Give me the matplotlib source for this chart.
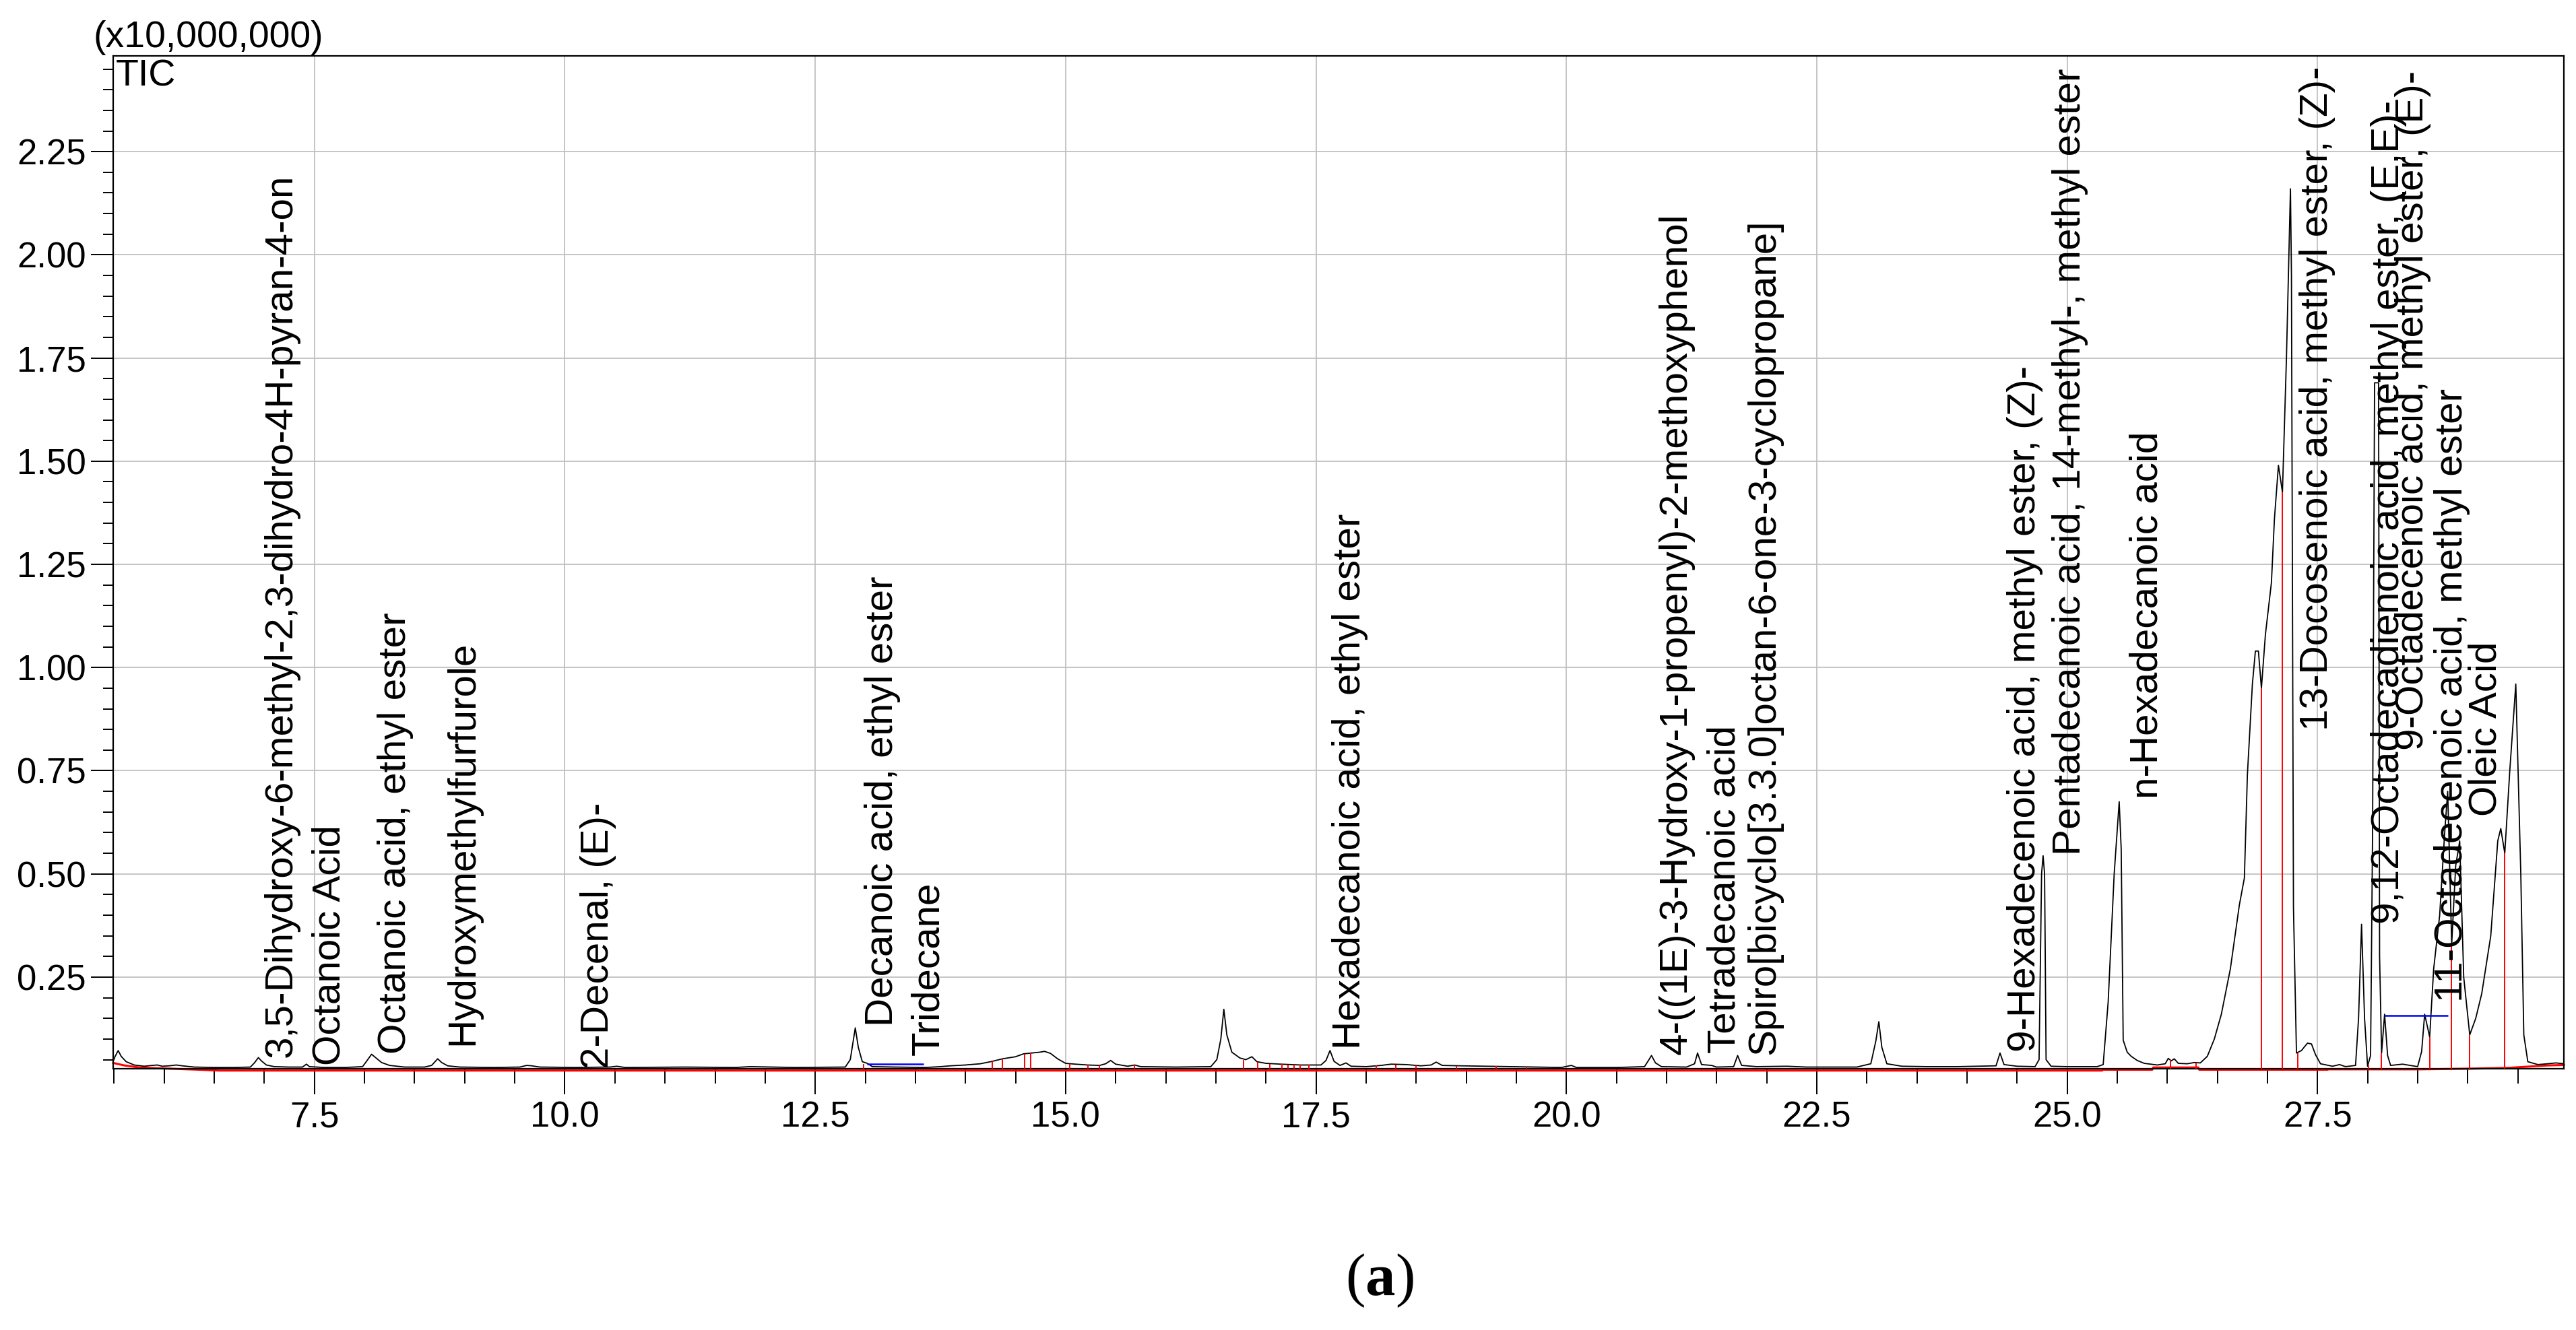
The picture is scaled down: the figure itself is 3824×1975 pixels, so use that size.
import matplotlib
matplotlib.use("Agg")
import matplotlib.pyplot as plt
from matplotlib.ticker import MultipleLocator, FormatStrFormatter

plt.rcParams['font.family'] = ['Liberation Sans', 'DejaVu Sans']
plt.rcParams['mathtext.fontset'] = 'custom'
plt.rcParams['mathtext.rm'] = 'Liberation Serif'
plt.rcParams['mathtext.bf'] = 'Liberation Serif:bold'

# ---- TIC trace (retention time in min, intensity x10,000,000) ----
trace_rt = [5.49, 5.51, 5.54, 5.57, 5.62, 5.70, 5.80, 5.88, 5.93, 5.98, 6.05, 6.12, 6.18, 6.30,
            6.50, 6.70, 6.86, 6.90, 6.94, 6.97, 7.02, 7.10, 7.25, 7.38, 7.42, 7.45, 7.60, 7.80,
            7.98, 8.02, 8.07, 8.11, 8.17, 8.25, 8.40, 8.60, 8.67, 8.73, 8.77, 8.83, 8.95, 9.30,
            9.55, 9.62, 9.67, 9.75, 10.10, 10.45, 10.52, 10.60, 11.20, 11.70, 11.85, 12.30, 12.80,
            12.85, 12.90, 12.93, 12.97, 13.02, 13.07, 13.30, 13.60, 13.75, 13.85, 14.00, 14.15,
            14.27, 14.37, 14.50, 14.58, 14.66, 14.74, 14.79, 14.85, 14.92, 15.00, 15.10, 15.22,
            15.34, 15.40, 15.45, 15.50, 15.62, 15.69, 15.75, 16.10, 16.45, 16.51, 16.55, 16.58,
            16.61, 16.66, 16.74, 16.80, 16.86, 16.91, 17.00, 17.15, 17.35, 17.55, 17.60, 17.64,
            17.68, 17.74, 17.80, 17.85, 18.00, 18.15, 18.25, 18.40, 18.55, 18.65, 18.70, 18.76,
            18.95, 19.20, 19.45, 19.70, 19.95, 20.05, 20.10, 20.50, 20.78, 20.82, 20.85, 20.89,
            20.95, 21.20, 21.28, 21.31, 21.35, 21.45, 21.50, 21.67, 21.71, 21.75, 21.90, 22.20,
            22.40, 22.90, 23.04, 23.09, 23.12, 23.15, 23.20, 23.35, 23.60, 23.90, 24.10, 24.29,
            24.33, 24.37, 24.50, 24.68, 24.72, 24.745, 24.76, 24.775, 24.79, 24.84, 25.00, 25.30,
            25.36, 25.41, 25.47, 25.52, 25.54, 25.56, 25.60, 25.64, 25.70, 25.77, 25.90, 25.98,
            26.01, 26.04, 26.07, 26.11, 26.20, 26.27, 26.33, 26.40, 26.47, 26.54, 26.63, 26.72,
            26.77, 26.80, 26.85, 26.88, 26.91, 26.94, 26.98, 27.04, 27.07, 27.11, 27.15, 27.19,
            27.23, 27.24, 27.25, 27.26, 27.29, 27.34, 27.40, 27.44, 27.48, 27.53, 27.65, 27.72,
            27.78, 27.88, 27.91, 27.94, 27.97, 28.00, 28.03, 28.05, 28.07, 28.11, 28.12, 28.14,
            28.17, 28.20, 28.23, 28.35, 28.50, 28.54, 28.57, 28.62, 28.66, 28.72, 28.77, 28.80,
            28.84, 28.88, 28.92, 28.96, 29.02, 29.08, 29.14, 29.23, 29.30, 29.33, 29.37, 29.42,
            29.48, 29.53, 29.56, 29.60, 29.70, 29.80, 29.88, 29.96]
trace_int = [0.046, 0.058, 0.072, 0.058, 0.045, 0.037, 0.034, 0.036, 0.037, 0.034, 0.035, 0.037, 0.035, 0.032,
             0.031, 0.031, 0.032, 0.042, 0.055, 0.047, 0.037, 0.033, 0.032, 0.032, 0.039, 0.033, 0.031, 0.031,
             0.033, 0.046, 0.063, 0.055, 0.043, 0.036, 0.032, 0.032, 0.036, 0.052, 0.043, 0.035, 0.032, 0.031,
             0.032, 0.036, 0.035, 0.032, 0.031, 0.032, 0.034, 0.031, 0.032, 0.031, 0.033, 0.031, 0.032,
             0.050, 0.127, 0.080, 0.045, 0.041, 0.033, 0.032, 0.031, 0.033, 0.035, 0.037, 0.040,
             0.046, 0.052, 0.057, 0.064, 0.066, 0.068, 0.070, 0.065, 0.052, 0.041, 0.039, 0.037,
             0.036, 0.040, 0.048, 0.039, 0.034, 0.037, 0.033, 0.032, 0.033, 0.050, 0.100, 0.172,
             0.110, 0.068, 0.054, 0.050, 0.057, 0.045, 0.041, 0.039, 0.037, 0.037, 0.048, 0.072,
             0.046, 0.036, 0.042, 0.034, 0.033, 0.036, 0.039, 0.038, 0.035, 0.037, 0.044, 0.036,
             0.035, 0.034, 0.033, 0.032, 0.031, 0.036, 0.031, 0.031, 0.033, 0.048, 0.060, 0.042,
             0.033, 0.032, 0.040, 0.066, 0.038, 0.036, 0.032, 0.033, 0.060, 0.036, 0.033, 0.034,
             0.032, 0.032, 0.040, 0.095, 0.142, 0.080, 0.040, 0.034, 0.033, 0.033, 0.034, 0.035,
             0.066, 0.038, 0.034, 0.033, 0.050, 0.500, 0.544, 0.500, 0.050, 0.034, 0.033, 0.033,
             0.038, 0.190, 0.500, 0.675, 0.560, 0.097, 0.068, 0.058, 0.048, 0.041, 0.037, 0.040,
             0.053, 0.047, 0.052, 0.041, 0.040, 0.043, 0.042, 0.058, 0.100, 0.160, 0.270, 0.425,
             0.490, 0.740, 0.960, 1.040, 1.040, 0.950, 1.080, 1.206, 1.360, 1.490, 1.425, 1.750,
             2.160, 1.950, 1.210, 0.420, 0.066, 0.072, 0.090, 0.088, 0.062, 0.040, 0.034, 0.038,
             0.033, 0.036, 0.150, 0.378, 0.150, 0.034, 0.060, 0.600, 1.690, 1.690, 0.300, 0.066,
             0.160, 0.060, 0.036, 0.039, 0.033, 0.070, 0.160, 0.105, 0.270, 0.400, 0.600, 0.700,
             0.330, 0.520, 0.580, 0.250, 0.110, 0.150, 0.210, 0.350, 0.580, 0.610, 0.550, 0.750,
             0.960, 0.500, 0.110, 0.045, 0.038, 0.040, 0.042, 0.040]

# ---- red integration baseline ----
baseline_rt = [5.49, 5.60, 5.75, 5.95, 6.30, 6.55, 25.35, 25.36, 25.85, 25.86, 26.31, 26.32, 27.60,
               27.61, 28.50, 29.00, 29.40, 29.60, 29.80, 29.96]
baseline_int = [0.042, 0.036, 0.031, 0.029, 0.026, 0.0235, 0.0235, 0.0255, 0.0255, 0.031, 0.031, 0.0255,
                0.0255, 0.0265, 0.0265, 0.028, 0.030, 0.033, 0.036, 0.037]

# ---- red peak marker lines ----
marker_rt = [12.98, 14.27, 14.37, 14.59, 14.65, 15.04, 15.22, 15.34, 15.69, 16.78, 16.92, 17.04,
             17.16, 17.22, 17.28, 17.34, 17.43, 18.10, 18.30, 18.50, 18.90, 19.30, 19.60,
             26.03, 26.29, 26.94, 27.15, 27.30, 28.01, 28.14, 28.62, 28.84, 29.02, 29.37]
marker_top = [0.040, 0.046, 0.052, 0.064, 0.066, 0.040, 0.037, 0.036, 0.037, 0.050, 0.045, 0.040,
              0.039, 0.038, 0.038, 0.037, 0.037, 0.036, 0.038, 0.036, 0.035, 0.034, 0.033,
              0.050, 0.043, 0.950, 1.425, 0.066, 0.036, 0.066, 0.105, 0.330, 0.110, 0.550]

# ---- blue baseline marks ----
blue_start = [13.02, 28.17]
blue_end = [13.58, 28.80]
blue_level = [0.040, 0.157]

# ---- peak labels ----
label_names = ["3,5-Dihydroxy-6-methyl-2,3-dihydro-4H-pyran-4-on",
               "Octanoic Acid",
               "Octanoic acid, ethyl ester",
               "Hydroxymethylfurfurole",
               "2-Decenal, (E)-",
               "Decanoic acid, ethyl ester",
               "Tridecane",
               "Hexadecanoic acid, ethyl ester",
               "4-((1E)-3-Hydroxy-1-propenyl)-2-methoxyphenol",
               "Tetradecanoic acid",
               "Spiro[bicyclo[3.3.0]octan-6-one-3-cyclopropane]",
               "9-Hexadecenoic acid, methyl ester, (Z)-",
               "Pentadecanoic acid, 14-methyl-, methyl ester",
               "n-Hexadecanoic acid",
               "13-Docosenoic acid, methyl ester, (Z)-",
               "9,12-Octadecadienoic acid, methyl ester, (E,E)-",
               "9-Octadecenoic acid, methyl ester, (E)-",
               "11-Octadecenoic acid, methyl ester",
               "Oleic Acid"]
label_rt = [6.99, 7.47, 8.13, 8.80, 10.15, 12.99, 13.45, 17.66, 20.92, 21.40, 21.80,
            24.40, 24.85, 25.62, 27.32, 28.03, 28.27, 28.66, 29.00]
label_base = [0.056, 0.036, 0.064, 0.085, 0.028, 0.130, 0.060, 0.075, 0.062, 0.066, 0.062,
              0.068, 0.545, 0.683, 0.847, 0.378, 0.800, 0.190, 0.640]

x_ticks_fmt = '%.1f'
y_ticks_fmt = '%.2f'

fig = plt.figure(figsize=(38.24, 19.75), dpi=100)
ax = fig.add_axes([0.04393, 0.19646, 0.95136, 0.76151])

ax.plot(trace_rt, trace_int, color='black', lw=1.3, zorder=3)
ax.plot(baseline_rt, baseline_int, color='red', lw=2.2, zorder=2, clip_on=False)
ax.vlines(marker_rt, 0.0235, marker_top, colors='red', lw=1.4, zorder=4)
ax.hlines(blue_level, blue_start, blue_end, colors='blue', lw=1.8, zorder=4)

for name, rt, base in zip(label_names, label_rt, label_base):
    ax.text(rt, base, name, rotation=90, ha='left', va='bottom', fontsize=42,
            zorder=5, clip_on=False)

ax.set_xlim(5.49, 29.96)
ax.set_ylim(0.028, 2.482)
ax.xaxis.set_major_locator(MultipleLocator(2.5))
ax.xaxis.set_minor_locator(MultipleLocator(0.5))
ax.yaxis.set_major_locator(MultipleLocator(0.25))
ax.yaxis.set_minor_locator(MultipleLocator(0.05))
ax.xaxis.set_major_formatter(FormatStrFormatter(x_ticks_fmt))
ax.yaxis.set_major_formatter(FormatStrFormatter(y_ticks_fmt))

ax.set_axisbelow(True)
ax.grid(True, which='major', color='#c0c0c0', lw=1.3, zorder=0)

ax.tick_params(axis='x', which='major', length=27.4, width=1.4, direction='out',
               labelsize=38, pad=7)
ax.tick_params(axis='x', which='minor', length=15.8, width=1.4, direction='out')
ax.tick_params(axis='y', which='major', length=23.8, width=1.4, direction='out',
               labelsize=38, pad=5)
ax.tick_params(axis='y', which='minor', length=10.8, width=1.4, direction='out')
for sp in ax.spines.values():
    sp.set_linewidth(1.6)
    sp.set_color('black')

ax.text(0.001, 0.997, 'TIC', transform=ax.transAxes, ha='left', va='top', fontsize=40, zorder=6)
fig.text(0.0361, 0.9646, '(x10,000,000)', ha='left', va='baseline', fontsize=40)
fig.text(0.5356, 0.0263, r'($\mathbf{a}$)', ha='center', va='baseline', fontsize=64,
         family='Liberation Serif')

fig.savefig('out.png', dpi=100, facecolor='white')
